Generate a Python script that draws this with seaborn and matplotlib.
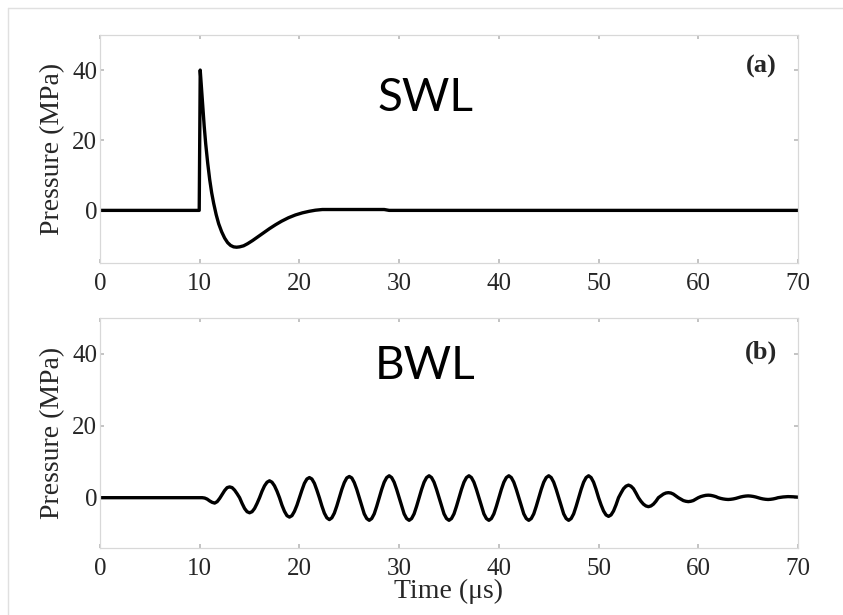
import matplotlib
matplotlib.use("Agg")
import matplotlib.pyplot as plt
import seaborn as sns
import pandas as pd

# ---- data ----
swl_time = [0, 9.95, 10.05, 10.15, 10.3, 10.45, 10.6, 10.8, 11.0, 11.2, 11.4, 11.65, 11.9,
            12.2, 12.5, 12.8, 13.1, 13.4, 13.7, 14.0, 14.4, 14.8, 15.3, 15.8, 16.4, 17.0,
            17.6, 18.2, 18.9, 19.6, 20.3, 21.0, 21.6, 22.3, 28.5, 29.0, 70]
swl_pressure = [0, 0, 40, 36, 30, 24, 19, 13.5, 8.8, 5.0, 2.0, -1.2, -3.8,
                -6.1, -7.9, -9.2, -10.0, -10.4, -10.5, -10.4, -10.1, -9.5, -8.6, -7.6, -6.4, -5.2,
                -4.1, -3.1, -2.1, -1.3, -0.7, -0.25, 0.05, 0.25, 0.25, 0.0, 0]

bwl_time = [0] + [10 + 0.25 * i for i in range(241)]   # 10 .. 70 us
bwl_pressure = [
    0,
    # 10.0 .. 13.0
    0, 0, -0.1, -0.4, -0.9, -1.3, -1.5, -1.1, -0.2, 0.9, 2.0, 2.8, 3.0,
    # 13.25 .. 15.0 and so on, two microseconds per row
    2.8, 2.1, 1.1, 0, -1.6, -3.0, -3.9, -4.2,
    -3.9, -3.0, -1.6, 0, 1.8, 3.3, 4.3, 4.7,
    4.3, 3.3, 1.8, 0, -2.1, -3.8, -5.0, -5.4,
    -5.0, -3.8, -2.1, 0, 2.1, 4.0, 5.2, 5.6,
    5.2, 4.0, 2.1, 0, -2.3, -4.3, -5.6, -6.1,
    -5.6, -4.3, -2.3, 0, 2.3, 4.2, 5.5, 5.9,
    5.5, 4.2, 2.3, 0, -2.4, -4.5, -5.8, -6.3,   # 27
    -5.8, -4.5, -2.4, 0, 2.3, 4.3, 5.6, 6.1,    # 29
    5.6, 4.3, 2.3, 0, -2.4, -4.5, -5.8, -6.3,   # 31
    -5.8, -4.5, -2.4, 0, 2.3, 4.3, 5.6, 6.1,    # 33
    5.6, 4.3, 2.3, 0, -2.4, -4.5, -5.8, -6.3,   # 35
    -5.8, -4.5, -2.4, 0, 2.3, 4.3, 5.6, 6.1,    # 37
    5.6, 4.3, 2.3, 0, -2.4, -4.5, -5.8, -6.3,   # 39
    -5.8, -4.5, -2.4, 0, 2.3, 4.3, 5.6, 6.1,    # 41
    5.6, 4.3, 2.3, 0, -2.4, -4.5, -5.8, -6.3,   # 43
    -5.8, -4.5, -2.4, 0, 2.3, 4.3, 5.6, 6.1,    # 45
    5.6, 4.3, 2.3, 0, -2.4, -4.5, -5.8, -6.3,   # 47
    -5.8, -4.5, -2.4, 0, 2.3, 4.3, 5.6, 6.1,    # 49
    5.6, 4.3, 2.3, 0, -2.0, -3.7, -4.8, -5.2,   # 51
    -4.8, -3.7, -2.0, 0, 1.3, 2.5, 3.2, 3.5,    # 53
    3.2, 2.5, 1.3, 0, -1.0, -1.8, -2.3, -2.5,   # 55
    -2.3, -1.8, -1.0, 0, 0.5, 1.0, 1.3, 1.4,    # 57
    1.3, 1.0, 0.5, 0, -0.4, -0.8, -1.0, -1.1,   # 59
    -1.0, -0.8, -0.4, 0, 0.3, 0.5, 0.65, 0.7,   # 61
    0.65, 0.5, 0.3, 0, -0.2, -0.35, -0.45, -0.5,  # 63
    -0.45, -0.35, -0.2, 0, 0.2, 0.35, 0.45, 0.5,  # 65
    0.45, 0.35, 0.2, 0, -0.2, -0.35, -0.45, -0.5,  # 67
    -0.45, -0.35, -0.2, 0, 0.1, 0.2, 0.25, 0.3,    # 69
    0.28, 0.25, 0.2, 0.15,                          # 70
]

x_ticks = [0, 10, 20, 30, 40, 50, 60, 70]
y_ticks = [0, 20, 40]
panel_tags = ["(a)", "(b)"]
panel_names = ["SWL", "BWL"]
y_limits = [(-15, 50), (-14, 50)]

# ---- figure ----
sns.set_theme(style="white")
plt.rcParams['font.family'] = ['Liberation Serif', 'DejaVu Serif']
fig = plt.figure(figsize=(8.43, 6.15), dpi=100)

ax_a = fig.add_axes([100/843, 1-263/615, 698/843, 228/615])
ax_b = fig.add_axes([100/843, 1-548/615, 698/843, 230/615])

datasets = [
    pd.DataFrame({"t": swl_time, "p": swl_pressure}),
    pd.DataFrame({"t": bwl_time, "p": bwl_pressure}),
]
name_y = [0.725, 0.79]
tag_y = [0.86, 0.852]

for i, (ax, df) in enumerate(zip([ax_a, ax_b], datasets)):
    sns.lineplot(data=df, x="t", y="p", ax=ax, color="black", linewidth=2.4,
                 sort=False, estimator=None)
    ax.set_xlim(0, 70)
    ax.set_ylim(*y_limits[i])
    ax.set_xticks(x_ticks)
    ax.set_yticks(y_ticks)
    ax.tick_params(direction="in", length=3, color="#bbbbbb", labelsize=18,
                   top=True, right=True, bottom=True, left=True)
    ax.tick_params(axis="x", pad=7)
    ax.tick_params(axis="y", pad=2)
    for s in ax.spines.values():
        s.set_color("#d8d8d8")
        s.set_linewidth(0.9)
    ax.set_ylabel("Pressure (MPa)", fontsize=20)
    ax.yaxis.set_label_coords(-0.05, 0.5)
    ax.set_xlabel("")
    ax.text(0.947, tag_y[i], panel_tags[i], transform=ax.transAxes, fontsize=19,
            fontweight="bold", ha="center", va="center")
    ax.text(0.466, name_y[i], panel_names[i], transform=ax.transAxes, fontsize=33,
            family=["Lato", "DejaVu Sans"], ha="center", va="center", color="black")
    ax.grid(False)

ax_b.set_xlabel("Time (\u03bcs)", fontsize=20)
ax_b.xaxis.set_label_coords(0.5, -0.135)

# faint frame lines at the top and left of the picture
fig.add_artist(plt.Line2D([8/843, 1], [1-8/615, 1-8/615], color="#e0e0e0", lw=1))
fig.add_artist(plt.Line2D([8/843, 8/843], [0, 1-8/615], color="#e0e0e0", lw=1))

fig.savefig("out.png", dpi=100)
